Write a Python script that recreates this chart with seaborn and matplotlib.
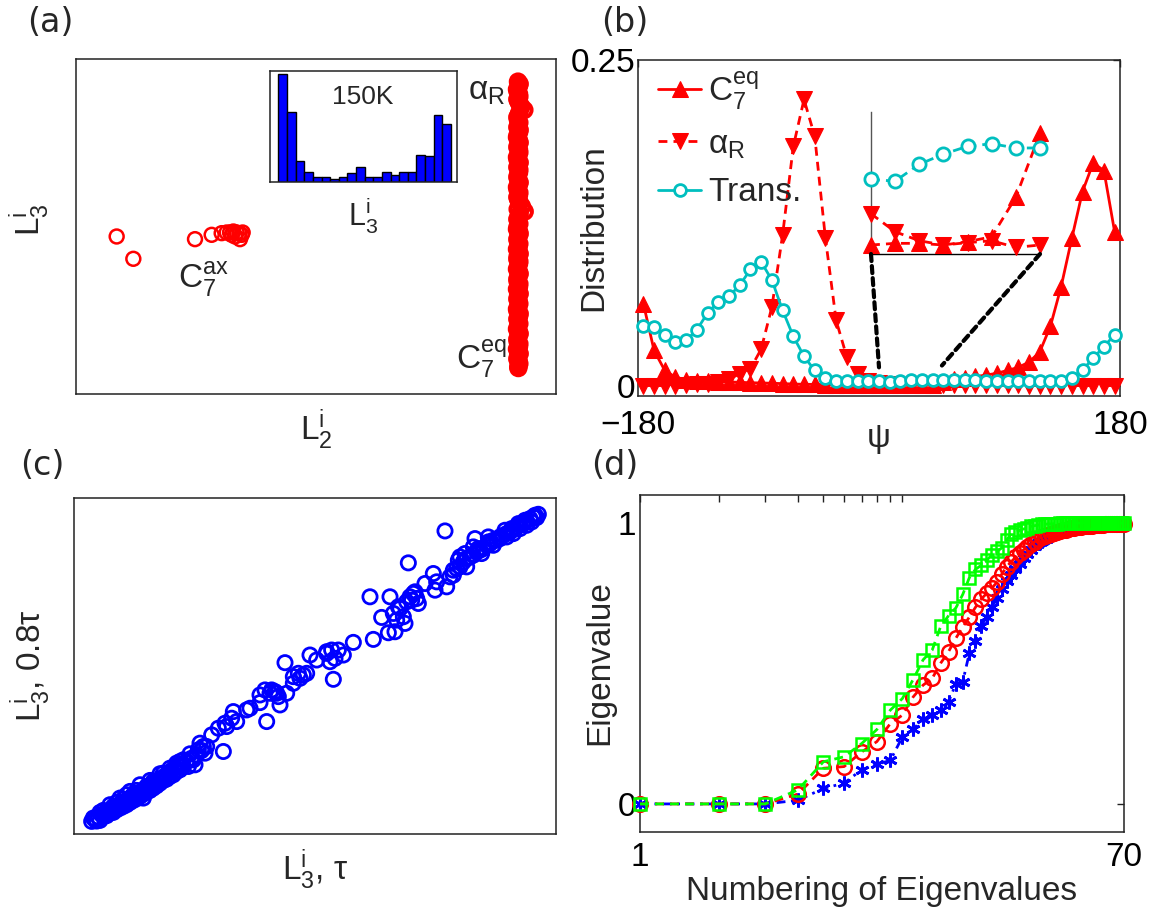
import matplotlib
matplotlib.use("Agg")
import matplotlib.pyplot as plt
import seaborn as sns
from matplotlib.patches import ConnectionPatch
from matplotlib.ticker import FixedLocator, NullFormatter

# ---------------- data ----------------
# (a) L2^i vs L3^i scatter (arbitrary units)
c7ax_x = [17.0, 22.0, 40.5, 45.5, 48.5, 50.0, 51.0, 52.0, 53.0, 53.8, 54.5, 54.0, 54.8, 52.5, 51.5]
c7ax_y = [51.0, 44.3, 50.2, 51.5, 52.0, 52.2, 52.2, 52.5, 52.2, 52.0, 51.5, 50.2, 52.2, 51.0, 51.5]
column_pts = [
    (137.4, 97.5), (137.6, 96.0), (137.3, 94.5), (137.8, 93.0), (137.5, 91.5), (138.4, 90.0), (139.3, 89.0),
    (137.6, 87.5), (137.4, 86.0), (137.5, 84.5), (137.9, 83.0), (137.3, 81.5), (137.6, 80.0), (137.4, 78.5),
    (137.7, 77.0), (137.5, 75.5), (137.3, 74.0), (137.6, 72.5), (137.8, 71.0), (137.4, 69.5), (137.5, 68.0),
    (137.6, 66.5), (137.3, 65.0), (137.7, 63.5), (137.5, 62.0), (138.6, 60.0), (139.4, 58.5), (137.6, 57.0),
    (137.5, 55.5), (137.3, 54.0), (137.7, 52.5), (137.5, 51.0), (137.4, 49.5), (137.6, 48.0), (137.5, 46.5),
    (137.3, 45.0), (137.8, 43.5), (137.4, 42.0), (137.6, 40.5), (137.5, 39.0), (137.3, 37.5), (137.7, 36.0),
    (137.5, 34.5), (137.4, 33.0), (137.6, 31.5), (137.5, 30.0), (137.3, 28.5), (137.7, 27.0), (137.5, 25.5),
    (137.4, 24.0), (137.6, 22.5), (137.5, 21.0), (137.3, 19.5), (137.7, 18.0), (137.5, 16.5), (137.4, 15.0),
    (137.6, 13.5), (137.5, 12.0), (137.5, 11.5),
    (137.9, 96.8), (137.1, 95.2), (137.7, 93.8), (137.2, 92.2), (137.9, 90.8), (137.8, 88.2), (137.2, 86.8),
    (137.8, 85.2), (137.2, 83.8), (137.7, 82.2), (137.1, 80.8), (137.9, 79.2), (137.2, 77.8), (137.8, 76.2),
    (137.1, 74.8), (137.9, 73.2), (137.2, 71.8), (137.7, 70.2), (137.2, 68.8), (137.9, 67.2), (137.1, 65.8),
    (137.8, 64.2), (137.2, 62.8), (137.9, 61.2), (137.3, 59.2), (137.9, 57.8), (137.2, 56.2), (137.8, 54.8),
    (137.1, 53.2), (137.9, 51.8), (137.2, 50.2), (137.8, 48.8), (137.1, 47.2), (137.9, 45.8), (137.2, 44.2),
    (137.7, 42.8), (137.1, 41.2), (137.9, 39.8), (137.2, 38.2), (137.8, 36.8), (137.1, 35.2), (137.9, 33.8),
    (137.2, 32.2), (137.8, 30.8), (137.1, 29.2), (137.9, 27.8), (137.2, 26.2), (137.8, 24.8), (137.1, 23.2),
    (137.9, 21.8), (137.2, 20.2), (137.8, 18.8), (137.1, 17.2), (137.9, 15.8), (137.2, 14.2), (137.8, 12.8)]
# (a) inset histogram of L3^i
hist_bins = [1, 2, 3, 4, 5, 6, 7, 8, 9, 10, 11, 12, 13, 14, 15, 16, 17, 18, 19, 20]
hist_counts = [313, 203, 61, 30, 15, 15, 10, 15, 26, 43, 15, 15, 30, 20, 30, 30, 80, 77, 195, 168]

# (b) distributions over psi
psi = [-176, -168, -160, -152, -144, -136, -128, -120, -112, -104, -96, -88, -80, -72, -64,
       -56, -48, -40, -32, -24, -16, -8, 0, 8, 16, 24, 32, 40, 48, 56,
       64, 72, 80, 88, 96, 104, 112, 120, 128, 136, 144, 152, 160, 168, 176]
c7eq = [0.063, 0.027, 0.0116, 0.0064, 0.0045, 0.0038, 0.0032, 0.003, 0.0028, 0.0025, 0.0022, 0.002, 0.0018, 0.0015, 0.0012,
        0.001, 0.0009, 0.0008, 0.0007, 0.0006, 0.0005, 0.0004, 0.00038, 0.00045, 0.00045, 0.00038, 0.00052, 0.00073, 0.0024, 0.0051,
        0.006, 0.007, 0.008, 0.0095, 0.0116, 0.014, 0.018, 0.0257, 0.0455, 0.0758, 0.113, 0.149, 0.171, 0.165, 0.118]
alphaR = [0.0, 0.0, 0.0, 0.0, 0.0005, 0.001, 0.0015, 0.003, 0.005, 0.009, 0.013, 0.028, 0.0604, 0.1156, 0.1837,
          0.2197, 0.1914, 0.113, 0.050, 0.0218, 0.009, 0.0039, 0.0017, 0.00094, 0.00056, 0.00038, 0.00048, 0.00056, 0.00028, 0.00038,
          0.0003, 0.0002, 0.0002, 0.0001, 0.0001, 0.0001, 0.0, 0.0, 0.0, 0.0, 0.0, 0.0, 0.0, 0.0, 0.0]
trans = [0.0455, 0.045, 0.0385, 0.0334, 0.0347, 0.0429, 0.0558, 0.0642, 0.0686, 0.0771, 0.0892, 0.095, 0.081, 0.0578, 0.0378,
         0.0224, 0.0116, 0.0059, 0.0039, 0.0034, 0.0033, 0.0032, 0.00315, 0.00308, 0.00379, 0.00422, 0.00455, 0.00466, 0.00448, 0.00448,
         0.0042, 0.004, 0.0038, 0.0036, 0.0034, 0.0033, 0.0032, 0.0032, 0.0033, 0.0038, 0.006, 0.012, 0.021, 0.030, 0.039]
inset_range = (0, 56)          # psi range magnified in the inset
inset_ylim = (0, 0.006)
zoom_marks = [(0, 0.014), (47, 0.0154)]   # where the dashed guides meet the main curves

# (c) L3^i at tau vs 0.8 tau (arbitrary units)
c_pts = [
    (9.5, 7.5), (10.5, 8.0), (11.5, 8.8), (12.5, 9.5), (13.5, 10.0), (14.5, 10.5), (15.5, 11.0), (16.5, 11.8),
    (17.5, 12.2), (18.5, 13.0), (19.5, 13.5), (20.5, 14.0), (21.5, 14.8), (22.5, 15.2), (23.5, 16.0), (24.5, 16.5),
    (25.5, 17.2), (26.5, 17.8), (27.5, 18.5), (28.5, 19.0), (29.5, 20.0), (30.5, 20.5), (31.5, 21.2), (32.5, 22.0),
    (33.5, 22.8), (34.5, 23.5), (35.5, 24.0), (36.5, 24.5), (38.0, 25.5), (39.5, 26.5), (41.0, 27.5), (42.5, 28.8),
    (44.0, 30.0), (12.0, 7.8), (14.0, 9.2), (16.0, 10.2), (18.0, 11.5), (20.0, 12.5), (22.0, 13.8), (24.0, 15.0),
    (26.0, 16.3), (28.0, 17.5), (30.0, 19.0), (32.0, 20.2), (34.0, 21.5), (12.0, 10.2), (15.0, 12.5), (18.0, 14.5),
    (21.0, 16.5), (24.0, 18.5), (27.0, 19.8), (30.0, 21.8), (33.0, 23.5), (36.0, 25.5), (39.0, 27.8), (20.0, 15.5),
    (25.0, 14.5), (36.0, 23.0), (40.5, 24.5), (42.0, 31.0), (43.0, 30.0), (45.5, 33.5), (49.0, 28.5), (50.0, 36.0),
    (52.0, 40.5), (53.0, 37.5), (56.0, 41.0), (57.0, 41.5), (60.0, 43.2), (62.0, 37.5), (63.5, 47.0), (65.0, 46.0),
    (66.0, 42.5), (68.0, 46.0), (67.5, 55.2), (70.0, 49.0), (72.0, 50.5), (74.0, 52.0), (75.0, 57.5), (77.0, 56.0),
    (80.0, 58.0), (81.0, 55.5), (82.0, 50.2), (83.5, 59.0), (85.0, 57.5), (88.0, 61.3), (93.0, 75.0), (94.0, 62.2),
    (96.5, 68.8), (99.0, 75.0), (98.5, 64.2), (100.5, 64.5), (101.0, 68.0), (102.0, 71.5), (103.5, 67.0), (104.5, 85.2),
    (105.0, 75.0), (106.0, 76.0), (107.0, 74.5), (109.5, 79.0), (112.0, 82.0), (112.5, 77.0), (113.0, 79.5), (115.5, 94.8),
    (116.0, 78.0), (118.0, 83.0), (120.0, 87.0), (121.5, 88.0), (124.5, 92.5), (128.5, 93.0), (117.0, 81.0), (119.0, 83.5),
    (121.0, 85.5), (123.0, 87.0), (125.0, 88.5), (127.0, 89.5), (129.0, 91.0), (131.0, 92.0), (133.0, 93.5), (135.0, 94.5),
    (137.0, 96.0), (139.0, 97.0), (141.0, 98.5), (142.5, 99.5), (143.0, 98.8), (139.5, 98.0), (135.5, 95.5), (125.5, 89.5),
    (122.0, 84.0), (119.5, 86.0), (130.0, 90.5), (132.0, 93.0), (134.0, 94.0), (136.0, 95.2), (138.0, 96.5), (140.0, 97.8),
    (47.5, 35.5), (49.5, 37.0), (51.5, 38.5), (60.0, 45.5), (61.5, 47.0), (63.0, 46.0), (64.5, 46.5), (65.5, 45.0),
    (70.0, 51.0), (71.5, 52.0), (73.0, 51.5), (80.0, 58.5), (81.5, 59.0), (82.5, 56.5), (100.0, 70.0), (101.5, 72.0),
    (103.0, 69.0), (104.0, 73.5), (105.5, 74.0), (106.5, 76.5), (107.5, 73.0),
    (10.0, 8.5), (11.0, 7.6), (13.0, 9.0), (13.0, 10.8), (15.0, 10.0), (16.0, 12.0), (17.0, 11.0), (17.0, 13.2),
    (19.0, 12.0), (19.0, 14.2), (21.0, 13.2), (22.0, 15.5), (23.0, 14.3), (23.0, 16.8), (25.0, 15.7), (26.0, 18.0),
    (27.0, 16.8), (28.0, 19.5), (29.0, 18.2), (31.0, 19.8), (31.0, 22.0), (33.0, 21.0), (35.0, 22.5), (35.0, 25.0),
    (37.0, 24.0), (37.0, 26.0), (38.5, 24.0), (40.0, 26.0), (41.5, 29.0), (43.5, 28.0),
    (118.0, 81.5), (120.0, 84.0), (122.0, 86.5), (124.0, 87.5), (126.0, 89.0), (128.0, 90.5), (130.0, 92.0),
    (132.0, 92.5), (134.0, 93.0), (136.0, 94.0), (138.0, 95.5), (140.0, 96.5), (141.5, 97.5), (142.0, 99.0),
    (143.5, 99.8), (128.5, 91.5), (126.5, 88.0), (124.0, 90.0), (133.5, 95.0), (137.5, 97.0)]

# (d) cumulative eigenvalues
eig_index = list(range(1, 71))
eig_green = [0, 0, 0, 0.05, 0.150, 0.168, 0.215, 0.265, 0.334, 0.375,
             0.443, 0.513, 0.548, 0.632, 0.670, 0.698, 0.746, 0.805, 0.835, 0.850,
             0.868, 0.888, 0.900, 0.912, 0.940, 0.962, 0.968, 0.974, 0.979, 0.984,
             0.988, 0.991, 0.993, 0.995, 0.996, 0.997, 0.997, 0.998, 0.998, 0.999,
             0.999, 0.999, 0.999, 0.999, 1.0, 1.0, 1.0, 1.0, 1.0, 1.0,
             1.0, 1.0, 1.0, 1.0, 1.0, 1.0, 1.0, 1.0, 1.0, 1.0,
             1.0, 1.0, 1.0, 1.0, 1.0, 1.0, 1.0, 1.0, 1.0, 1.0]
eig_red = [0, 0, 0, 0.035, 0.127, 0.133, 0.185, 0.222, 0.286, 0.316,
           0.381, 0.423, 0.447, 0.501, 0.542, 0.590, 0.630, 0.665, 0.700, 0.730,
           0.750, 0.770, 0.790, 0.820, 0.845, 0.862, 0.878, 0.892, 0.905, 0.915,
           0.925, 0.934, 0.942, 0.949, 0.954, 0.958, 0.962, 0.966, 0.969, 0.972,
           0.975, 0.977, 0.979, 0.981, 0.983, 0.985, 0.986, 0.987, 0.988, 0.989,
           0.990, 0.991, 0.991, 0.992, 0.993, 0.993, 0.994, 0.994, 0.995, 0.995,
           0.995, 0.996, 0.996, 0.996, 0.997, 0.997, 0.997, 0.998, 0.998, 0.998]
eig_blue = [0, 0, 0, 0.013, 0.055, 0.074, 0.122, 0.141, 0.155, 0.238,
            0.265, 0.304, 0.316, 0.334, 0.364, 0.427, 0.435, 0.536, 0.580, 0.635,
            0.665, 0.700, 0.735, 0.765, 0.795, 0.815, 0.835, 0.855, 0.875, 0.890,
            0.905, 0.918, 0.928, 0.936, 0.943, 0.949, 0.955, 0.960, 0.965, 0.969,
            0.972, 0.975, 0.978, 0.980, 0.982, 0.984, 0.986, 0.987, 0.988, 0.989,
            0.990, 0.991, 0.991, 0.992, 0.993, 0.993, 0.994, 0.994, 0.995, 0.995,
            0.995, 0.996, 0.996, 0.996, 0.997, 0.997, 0.997, 0.998, 0.998, 0.998]

# ---------------- style ----------------
sns.set_theme(style="white")
plt.rcParams["font.family"] = ["Liberation Sans", "DejaVu Sans"]
plt.rcParams["mathtext.fontset"] = "custom"
plt.rcParams["mathtext.rm"] = "Liberation Sans"
plt.rcParams["mathtext.it"] = "Liberation Sans"
plt.rcParams["mathtext.sf"] = "Liberation Sans"
plt.rcParams["mathtext.bf"] = "Liberation Sans:bold"
plt.rcParams["axes.edgecolor"] = "#222222"
plt.rcParams["axes.linewidth"] = 1.1
plt.rcParams["lines.dashed_pattern"] = [3.2, 2.2]
plt.rcParams["lines.dashdot_pattern"] = [3.2, 2.0, 1.0, 2.0]

FS = 24
RED = "#FF0000"
CYAN = "#00BFBF"
BLUE = "#0000FF"
GREEN = "#00FF00"
L3 = "$\\mathrm{L}_3^\\mathrm{i}$"

W, H = 1158, 916
fig = plt.figure(figsize=(W / 100, H / 100), dpi=100)
fig.patch.set_facecolor("white")


def rect(l, t, r, b):
    return [l / W, 1 - b / H, (r - l) / W, (b - t) / H]


def panel_label(x, y, s):
    fig.text(x / W, 1 - y / H, s, fontsize=FS, family="DejaVu Sans", ha="center", va="center")


# ---------------- (a) ----------------
axa = fig.add_axes(rect(76, 59, 556, 394))
sns.scatterplot(x=c7ax_x, y=c7ax_y, ax=axa, s=100, marker="o", facecolor="none",
                edgecolor=RED, linewidth=1.8, legend=False)
sns.scatterplot(x=[p[0] for p in column_pts], y=[p[1] for p in column_pts], ax=axa, s=110,
                marker="o", facecolor="none", edgecolor=RED, linewidth=2.8, legend=False)
axa.set_xlim(4.8, 148.8)
axa.set_ylim(3.7, 104.3)
axa.set_xticks([])
axa.set_yticks([])
axa.text(128.0, 94.5, r"$\alpha_\mathrm{R}$", fontsize=FS, ha="center", va="center")
axa.text(43.0, 38.0, r"$\mathrm{C}_7^\mathrm{ax}$", fontsize=FS, ha="center", va="center")
axa.text(126.5, 14.3, r"$\mathrm{C}_7^\mathrm{eq}$", fontsize=FS, ha="center", va="center")
axa.set_ylabel(L3, fontsize=FS, va="center", ha="center")
axa.yaxis.set_label_coords(-0.096, 0.52)
axa.set_xlabel(r"$\mathrm{L}_2^\mathrm{i}$", fontsize=FS, va="center", ha="center")
axa.xaxis.set_label_coords(0.5, -0.107)

axh = fig.add_axes(rect(270, 71, 457, 182))
sns.barplot(x=hist_bins, y=hist_counts, ax=axh, native_scale=True, width=1.0, color=BLUE,
            saturation=1, edgecolor="black", linewidth=1.0)
axh.set_xlim(-0.47, 21.2)
axh.set_ylim(0, 323)
axh.set_xticks([])
axh.set_yticks([])
axh.set_xlabel("")
axh.set_ylabel("")
axh.text(0.497, 0.766, "150K", transform=axh.transAxes, fontsize=19, ha="center", va="center")
axh.text(0.497, -0.30, L3, transform=axh.transAxes, fontsize=22, ha="center", va="center")

# ---------------- (b) ----------------
axb = fig.add_axes(rect(638, 60, 1120, 396))
sns.lineplot(x=psi, y=c7eq, ax=axb, color=RED, marker="^", markersize=11, mec=RED, mfc=RED,
             lw=2, linestyle="-", clip_on=False, label=r"$\mathrm{C}_7^\mathrm{eq}$", zorder=3)
sns.lineplot(x=psi, y=alphaR, ax=axb, color=RED, marker="v", markersize=11, mec=RED, mfc=RED,
             lw=2, linestyle="--", clip_on=False, label=r"$\alpha_\mathrm{R}$", zorder=4)
sns.lineplot(x=psi, y=trans, ax=axb, color=CYAN, marker="o", markersize=8.5, mec=CYAN, mfc="white",
             mew=2, lw=2, linestyle="-", clip_on=False, label="Trans.", zorder=5)
axb.set_xlim(-180, 180)
axb.set_ylim(-0.008, 0.25)
axb.set_xticks([-180, 180])
axb.set_xticklabels(["\u2212180", "180"])
axb.set_yticks([0, 0.25])
axb.set_yticklabels(["0", "0.25"])
axb.tick_params(axis="both", which="both", direction="in", length=5, width=1, labelsize=FS,
                top=True, right=True, colors="#222222", labelcolor="black")
axb.tick_params(axis="x", pad=10)
axb.tick_params(axis="y", pad=2)
axb.set_ylabel("Distribution", fontsize=FS, va="center", ha="center")
axb.yaxis.set_label_coords(-0.091, 0.5)
axb.set_xlabel("\u03c8", fontsize=FS, va="center", ha="center")
axb.xaxis.set_label_coords(0.5, -0.125)
leg = axb.legend(loc="upper left", bbox_to_anchor=(0.0, 1.03), frameon=False, fontsize=FS,
                 handlelength=1.3, handletextpad=0.2, labelspacing=0.5, borderaxespad=0.2)

axi = fig.add_axes(rect(871, 112, 1040, 254))
axi.patch.set_alpha(0)
sel = [i for i, v in enumerate(psi) if inset_range[0] <= v <= inset_range[1]]
px = [psi[i] for i in sel]
sns.lineplot(x=px, y=[c7eq[i] for i in sel], ax=axi, color=RED, marker="^", markersize=11, mec=RED,
             mfc=RED, lw=2, linestyle="--", clip_on=False, zorder=3)
sns.lineplot(x=px, y=[alphaR[i] for i in sel], ax=axi, color=RED, marker="v", markersize=11, mec=RED,
             mfc=RED, lw=2, linestyle="--", clip_on=False, zorder=4)
sns.lineplot(x=px, y=[trans[i] for i in sel], ax=axi, color=CYAN, marker="o", markersize=9.5, mec=CYAN,
             mfc="white", mew=2, lw=2, linestyle="--", clip_on=False, zorder=5)
axi.set_xlim(*inset_range)
axi.set_ylim(*inset_ylim)
axi.set_xticks([])
axi.set_yticks([])
axi.spines["top"].set_visible(False)
axi.spines["right"].set_visible(False)
axi.spines["left"].set_color("#555555")
axi.spines["left"].set_linewidth(1.0)
axi.spines["bottom"].set_color("black")
axi.spines["bottom"].set_linewidth(1.0)

for corner, target in zip([(0, 0), (1, 0)], zoom_marks):
    con = ConnectionPatch(xyA=corner, coordsA=axi.transAxes, xyB=target, coordsB=axb.transData,
                          linestyle=(0, (1.7, 1.2)), lw=3, color="black", zorder=6)
    fig.add_artist(con)

# ---------------- (c) ----------------
axc = fig.add_axes(rect(74, 498, 556, 834))
sns.scatterplot(x=[p[0] for p in c_pts], y=[p[1] for p in c_pts], ax=axc, s=105, marker="o",
                facecolor="none", edgecolor=BLUE, linewidth=2.0, legend=False)
axc.set_xlim(4.2, 148.8)
axc.set_ylim(3.7, 104.7)
axc.set_xticks([])
axc.set_yticks([])
axc.set_ylabel(L3 + ", 0.8\u03c4", fontsize=FS, va="center", ha="center")
axc.yaxis.set_label_coords(-0.091, 0.5)
axc.set_xlabel(L3 + ", \u03c4", fontsize=FS, va="center", ha="center")
axc.xaxis.set_label_coords(0.5, -0.107)

# ---------------- (d) ----------------
axd = fig.add_axes(rect(640, 495, 1124, 832))
sns.lineplot(x=eig_index, y=eig_blue, ax=axd, color=BLUE, marker=(6, 2, 0), markersize=10, mec=BLUE,
             mew=2, lw=2, linestyle="-.", clip_on=False, zorder=3)
sns.lineplot(x=eig_index, y=eig_red, ax=axd, color=RED, marker="o", markersize=10.5, mec=RED, mfc="none",
             mew=1.8, lw=2, linestyle="--", clip_on=False, zorder=4)
sns.lineplot(x=eig_index, y=eig_green, ax=axd, color=GREEN, marker="s", markersize=8.5, mec=GREEN, mfc="none",
             mew=1.8, lw=2, linestyle="--", clip_on=False, zorder=5)
axd.set_xscale("log")
axd.set_xlim(1, 70)
axd.set_ylim(-0.1, 1.1)
axd.xaxis.set_major_locator(FixedLocator([1, 70]))
axd.xaxis.set_minor_locator(FixedLocator([2, 3, 4, 5, 6, 7, 8, 9, 10]))
axd.xaxis.set_minor_formatter(NullFormatter())
axd.set_xticklabels(["1", "70"])
axd.set_yticks([0, 1])
axd.set_yticklabels(["0", "1"])
axd.tick_params(axis="both", which="both", direction="in", length=5, width=1, labelsize=FS,
                top=True, right=True, colors="#222222", labelcolor="black")
axd.tick_params(axis="x", which="both", pad=7)
axd.tick_params(axis="y", pad=3)
axd.set_ylabel("Eigenvalue", fontsize=FS, va="center", ha="center")
axd.yaxis.set_label_coords(-0.083, 0.504)
axd.set_xlabel("Numbering of Eigenvalues", fontsize=FS, va="center", ha="center")
axd.xaxis.set_label_coords(0.5, -0.178)

# ---------------- panel labels ----------------
panel_label(50, 22, "(a)")
panel_label(625, 22, "(b)")
panel_label(42, 465, "(c)")
panel_label(615, 465, "(d)")

fig.savefig("out.png", dpi=100, facecolor="white")
